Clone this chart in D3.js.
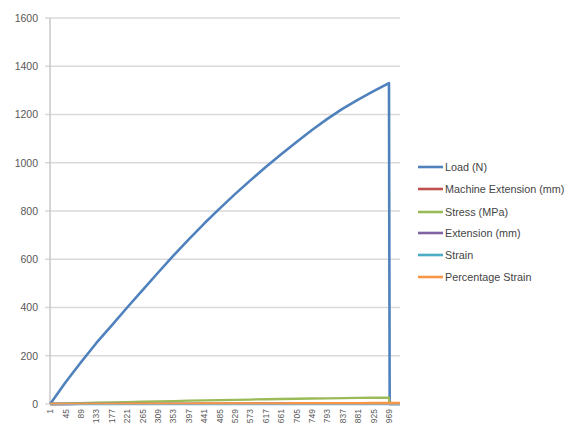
<!DOCTYPE html>
<html><head><meta charset="utf-8">
<script src="https://cdn.jsdelivr.net/npm/d3@7"></script>
<style>body{margin:0;background:#fff}svg{display:block}</style>
</head><body>
<script>
// category count and sampled category indices
const categoryCount = 1000;
const sampleIdx = [1,45,89,133,177,221,265,309,353,397,441,485,529,573,617,661,705,749,793,837,881,925,969,971,1000];
const loadN      = [0,90,173,253,326,400,472,544,615,682,748,810,870,927,982,1035,1086,1136,1182,1224,1262,1297,1330,0,0];
const machineExt = [0,0.1,0.2,0.3,0.4,0.5,0.6,0.7,0.8,0.9,1.0,1.1,1.2,1.3,1.4,1.5,1.6,1.7,1.8,1.9,2.0,2.1,2.2,2.2,2.3];
const stressMPa  = [0,1.8,3.5,5.1,6.5,8,9.4,10.9,12.3,13.6,15,16.3,17.4,18.5,19.7,20.7,21.7,22.7,23.7,24.5,25.2,25.9,26.6,0,0];
const extMm      = [0,0.08,0.16,0.24,0.32,0.4,0.48,0.56,0.64,0.72,0.8,0.88,0.96,1.04,1.12,1.2,1.28,1.36,1.44,1.52,1.6,1.68,1.76,1.76,1.8];
const strain     = [0,0.002,0.004,0.006,0.008,0.01,0.012,0.014,0.016,0.018,0.02,0.022,0.024,0.026,0.028,0.03,0.032,0.034,0.036,0.038,0.04,0.042,0.044,0.044,0.045];
const pctStrain  = [0,0.2,0.4,0.6,0.8,1.0,1.2,1.4,1.6,1.8,2.0,2.2,2.4,2.6,2.8,3.0,3.2,3.4,3.6,3.8,4.0,4.2,4.4,4.4,4.5];
const seriesNames = ["Load (N)","Machine Extension (mm)","Stress (MPa)","Extension (mm)","Strain","Percentage Strain"];
const seriesColors = ["#4f81bd","#c0504d","#9bbb59","#8064a2","#4bacc6","#f79646"];
const yTicks = [0,200,400,600,800,1000,1200,1400,1600];
const xTickLabels = d3.range(1, 1000, 44);

const seriesValues = [loadN, machineExt, stressMPa, extMm, strain, pctStrain];

const W = 575, H = 430;
const svg = d3.select("body").append("svg").attr("width", W).attr("height", H);
const pLeft = 50, pRight = 400, pTop = 18, pBottom = 404;
const font = "Liberation Sans, Arial, sans-serif";

const x = d3.scaleLinear().domain([0.5, categoryCount + 0.5]).range([pLeft, pRight]);
const y = d3.scaleLinear().domain([0, 1600]).range([pBottom, pTop]);

// gridlines
svg.append("g").selectAll("line").data(yTicks).join("line")
  .attr("x1", pLeft - 5).attr("x2", pRight)
  .attr("y1", d => y(d)).attr("y2", d => y(d))
  .attr("stroke", "#d9d9d9").attr("stroke-width", 1.4);

// y axis line
svg.append("line").attr("x1", pLeft).attr("x2", pLeft).attr("y1", pTop).attr("y2", pBottom)
  .attr("stroke", "#c4c4c4").attr("stroke-width", 1.4);

// y tick labels
svg.append("g").selectAll("text").data(yTicks).join("text")
  .attr("x", 38).attr("y", d => y(d) + 3.8)
  .attr("text-anchor", "end")
  .attr("font-family", font).attr("font-size", 10.5)
  .attr("fill", "#595959").text(d => d);

// lines
const line = d3.line().x(d => x(d[0])).y(d => y(d[1]));
seriesValues.forEach((vals, k) => {
  const pts = sampleIdx.map((c, i) => [c, vals[i]]);
  svg.append("path").datum(pts).attr("d", line)
    .attr("fill", "none").attr("stroke", seriesColors[k])
    .attr("stroke-width", k === 0 ? 2.6 : 2.3).attr("stroke-linejoin", "round");
});

// x axis line
svg.append("line").attr("x1", pLeft).attr("x2", pRight).attr("y1", pBottom + 0.5).attr("y2", pBottom + 0.5)
  .attr("stroke", "#a6a6a6").attr("stroke-width", 1);

// x tick labels (rotated)
svg.append("g").selectAll("text").data(xTickLabels).join("text")
  .attr("transform", d => `translate(${x(d) + 3},${pBottom + 5}) rotate(-90)`)
  .attr("text-anchor", "end")
  .attr("font-family", font).attr("font-size", 8.5)
  .attr("fill", "#595959").text(d => d);

// legend
const legY = [167, 189, 212, 233, 255, 277];
const lg = svg.append("g");
seriesNames.forEach((name, k) => {
  lg.append("line").attr("x1", 418).attr("x2", 443).attr("y1", legY[k]).attr("y2", legY[k])
    .attr("stroke", seriesColors[k]).attr("stroke-width", 2.6);
  lg.append("text").attr("x", 445).attr("y", legY[k] + 3.8)
    .attr("font-family", font).attr("font-size", 10.8)
    .attr("fill", "#444").text(name);
});
</script>
</body></html>
